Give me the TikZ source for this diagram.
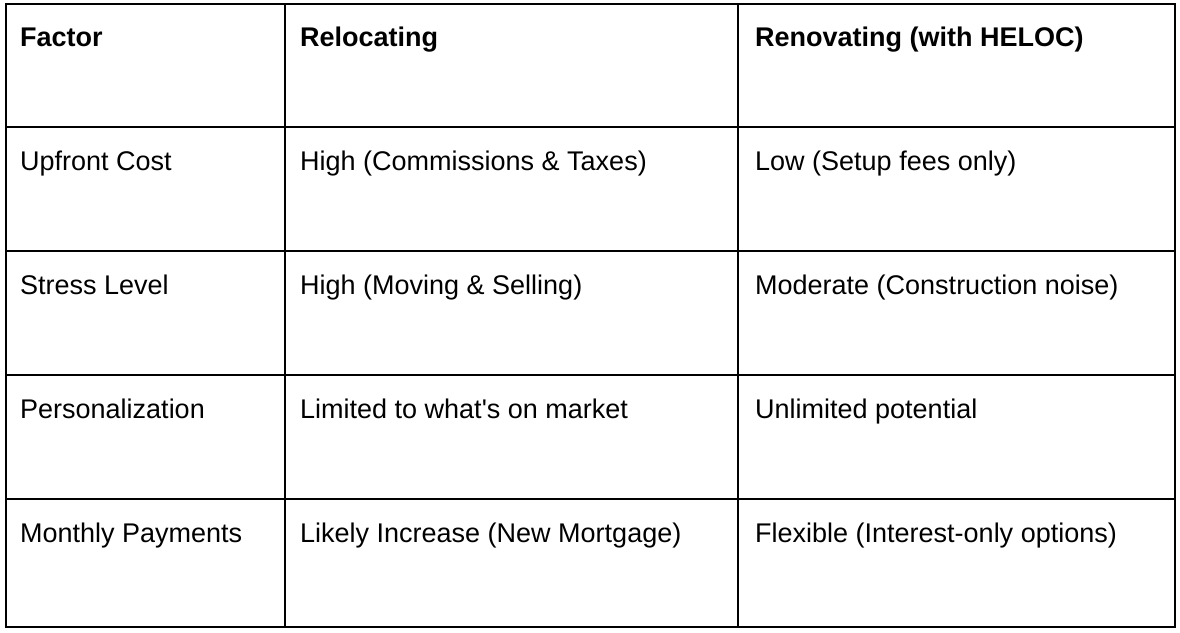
\documentclass[tikz,border=0pt]{standalone}
\usepackage{fontspec}
\setmainfont{Liberation Sans}
\usetikzlibrary{positioning}

\tikzset{
  cell/.style={anchor=base west, inner sep=0pt, font=\fontsize{27}{32}\selectfont},
  headcell/.style={cell, font=\fontsize{27}{32}\selectfont\bfseries},
  gridline/.style={line width=1.6pt, black}
}

\begin{document}
\begin{tikzpicture}[x=1pt, y=-1pt]
  \useasboundingbox (0, 0) rectangle (1180, 632);
  \fill[white] (0, 0) rectangle (1180, 632);

  % grid
  \draw[gridline] (6, 4) rectangle (1175, 627);
  \foreach \yy in {127, 251, 375, 499} {
    \draw[gridline] (6, \yy) -- (1175, \yy);
  }
  \foreach \xx in {285, 738} {
    \draw[gridline] (\xx, 4) -- (\xx, 627);
  }

  % header
  \node[headcell] (h1) at (20, 46) {Factor};
  \node[headcell] (h2) at (300, 46) {Relocating};
  \node[headcell] (h3) at (755, 46) {Renovating (with HELOC)};

  % rows
  \foreach \r/\a/\b/\c in {1/Upfront Cost/High (Commissions \& Taxes)/Low (Setup fees only),
      2/Stress Level/High (Moving \& Selling)/Moderate (Construction noise),
      3/Personalization/Limited to what\textquotesingle s on market/Unlimited potential,
      4/Monthly Payments/Likely Increase (New Mortgage)/Flexible (Interest-only options)} {
    \node[cell] (f\r) at (20, {46 + 124*\r}) {\a};
    \node[cell] (m\r) at (300, {46 + 124*\r}) {\b};
    \node[cell] (n\r) at (755, {46 + 124*\r}) {\c};
  }
\end{tikzpicture}
\end{document}
